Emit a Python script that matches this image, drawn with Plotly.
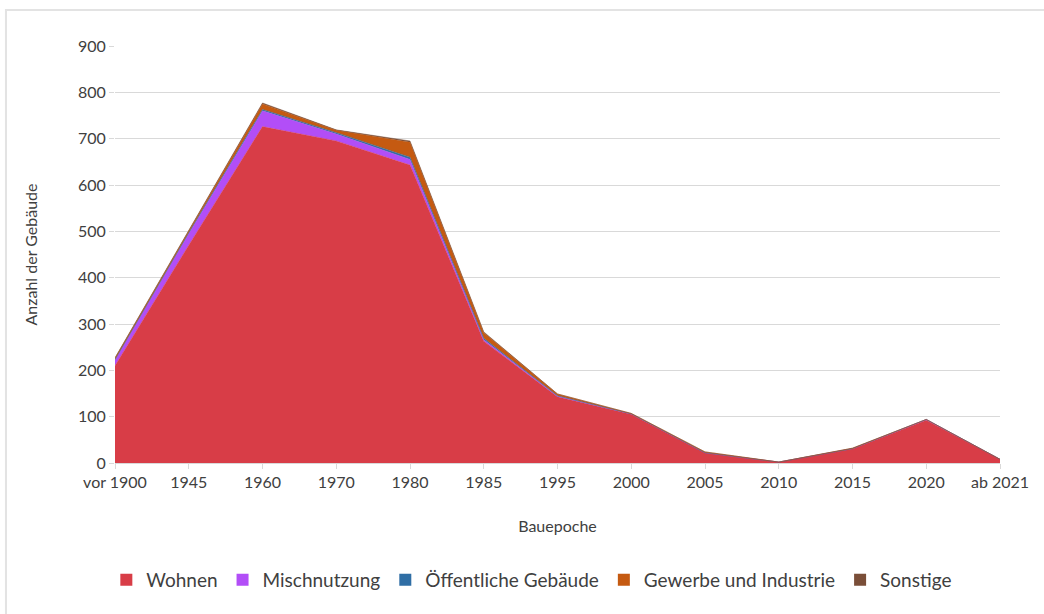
import plotly.graph_objects as go

# Bauepochen (x-axis categories)
epochen = ["vor 1900", "1945", "1960", "1970", "1980", "1985", "1995",
           "2000", "2005", "2010", "2015", "2020", "ab 2021"]

# Anzahl der Gebäude je Nutzungsart
wohnen = [210, 470, 726, 695, 643, 263, 143, 105, 22, 2, 31, 92, 8]
mischnutzung = [12, 25, 34, 15, 12, 3, 1, 1, 0, 0, 0, 2, 0]
oeffentlich = [1, 2, 3, 3, 5, 3, 1, 0, 0, 0, 0, 0, 0]
gewerbe = [3, 5, 12, 5, 32, 12, 4, 1, 2, 0, 1, 0, 0]
sonstige = [1, 1, 2, 1, 3, 2, 0, 0, 0, 0, 0, 0, 0]

series = [
    ("Wohnen", wohnen, "#D83D47"),
    ("Mischnutzung", mischnutzung, "#B24EF7"),
    ("Öffentliche Gebäude", oeffentlich, "#2F6EA5"),
    ("Gewerbe und Industrie", gewerbe, "#C55A11"),
    ("Sonstige", sonstige, "#7A4E38"),
]

font_family = "Lato, 'Open Sans', sans-serif"
text_color = "#404040"

fig = go.Figure()
for name, vals, col in series:
    # stacked area
    fig.add_trace(go.Scatter(
        x=epochen, y=vals, name=name, mode="lines",
        stackgroup="one", line=dict(width=0.5, color=col),
        fillcolor=col, showlegend=False,
    ))
for name, vals, col in series:
    # square legend key
    fig.add_trace(go.Scatter(
        x=[None], y=[None], name=name, mode="markers",
        marker=dict(symbol="square", size=12, color=col),
    ))

fig.update_layout(
    width=1044, height=614,
    margin=dict(l=115, r=44, t=46, b=151),
    paper_bgcolor="white", plot_bgcolor="white",
    font=dict(family=font_family, color=text_color, size=16),
    showlegend=True,
    legend=dict(orientation="h", x=0.471, xanchor="center", y=-0.2806,
                yanchor="middle", font=dict(size=19, color=text_color),
                itemwidth=30, traceorder="normal"),
    xaxis=dict(
        type="category", range=[0, len(epochen) - 1],
        showgrid=False, zeroline=False,
        showline=True, linecolor="#d9d9d9", linewidth=1,
        ticks="outside", ticklen=5, tickcolor="#d9d9d9",
        tickfont=dict(size=16, color=text_color),
        title=dict(text="Bauepoche", font=dict(size=16, color=text_color),
                   standoff=30),
    ),
    yaxis=dict(
        range=[0, 900], dtick=100,
        showgrid=True, gridcolor="#d9d9d9", gridwidth=1.2,
        zeroline=False, showline=False,
        ticks="outside", ticklen=5, tickcolor="#d9d9d9",
        tickfont=dict(size=16, color=text_color),
        title=dict(text="Anzahl der Gebäude",
                   font=dict(size=16, color=text_color), standoff=36),
    ),
    shapes=[dict(
        type="rect", xref="paper", yref="paper",
        x0=-0.1232, x1=1.06, y0=-0.38, y1=1.0863,
        line=dict(color="#e3e3e3", width=2), layer="below",
    )],
)

fig.write_html("out.html")
